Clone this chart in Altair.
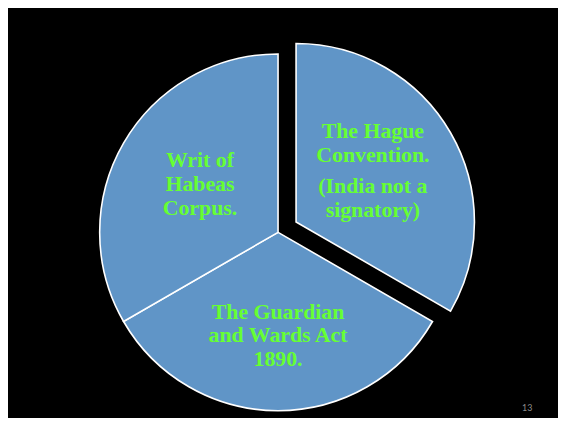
import math
import altair as alt
import pandas as pd

# ---- data ----
slices = ["Hague", "Guardian", "Writ"]
shares = [1, 1, 1]
order = [0, 1, 2]
exploded = [True, False, False]
titles = ["The Hague\nConvention.", "The Guardian\nand Wards Act\n1890.", "Writ of\nHabeas\nCorpus."]
notes = ["(India not a\nsignatory)", "", ""]
page_number = ["13"]

df = pd.DataFrame({
    "slice": slices,
    "share": shares,
    "order": order,
    "exploded": exploded,
    "title": titles,
    "note": notes,
})

# ---- styles ----
W, H = 555, 410
CX, CY = 272.5, 224.5          # pie centre (chart coords)
R = 180
EXPLODE = 21
EX = CX + EXPLODE * math.sin(math.pi / 3)
EY = CY - EXPLODE * math.cos(math.pi / 3)
FILL = "#6095C7"
GREEN = "#66FF33"
FONT = "Liberation Serif"

theta_scale = alt.Scale(domain=[0, 1], range=[0, 2 * math.pi])

base = alt.Chart(df)

def arcs(is_exploded, cx, cy):
    return base.transform_filter(
        f"datum.exploded == {'true' if is_exploded else 'false'}"
    ).mark_arc(
        outerRadius=R, fill=FILL, stroke="white", strokeWidth=1.6
    ).encode(
        theta=alt.Theta("v0:Q", scale=theta_scale),
        theta2="v1:Q",
        x=alt.value(cx),
        y=alt.value(cy),
    )

def label(name, field, cx, cy, r, dy):
    return base.transform_filter(
        f"datum.slice == '{name}'"
    ).mark_text(
        font=FONT, fontSize=22, fontWeight="bold", color=GREEN,
        lineBreak="\n", lineHeight=24, align="center", baseline="middle", dy=dy,
    ).encode(
        theta=alt.Theta("mid:Q", scale=theta_scale),
        radius=alt.value(r),
        x=alt.value(cx),
        y=alt.value(cy),
        text=alt.Text(f"{field}:N"),
    )

pie = alt.layer(
    arcs(False, CX, CY),
    arcs(True, EX, EY),
    label("Writ", "title", CX, CY, 91, -27),
    label("Guardian", "title", CX, CY, 104, -24),
    label("Hague", "title", EX, EY, 89.5, -47),
    label("Hague", "note", EX, EY, 89.5, 9),
).transform_stack(
    stack="share", groupby=[], as_=["v0", "v1"],
    offset="normalize", sort=[alt.SortField("order", order="ascending")],
).transform_calculate(
    mid="(datum.v0 + datum.v1) / 2"
)

num = alt.Chart(pd.DataFrame({"n": page_number})).mark_text(
    font="Lato", fontSize=9, color="#8C8C8C", align="center", baseline="middle"
).encode(
    x=alt.value(524), y=alt.value(402), text="n:N"
)

chart = alt.layer(pie, num).properties(
    width=W, height=H,
    autosize=alt.AutoSizeParams(type="fit", contains="padding"),
    padding=0,
    background="black",
).configure_view(stroke=None)

chart.save("out.html", embed_options={"renderer": "svg", "actions": False})
